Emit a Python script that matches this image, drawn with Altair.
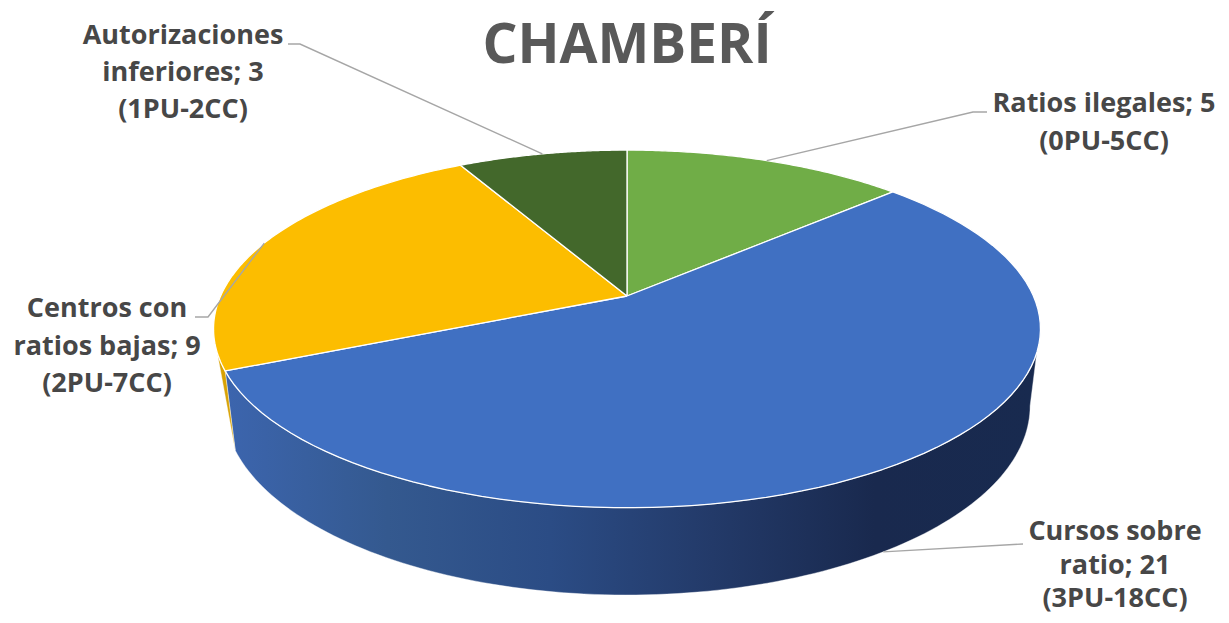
import numpy as np
import pandas as pd
import altair as alt

# --- chart content -------------------------------------------------------
values = [5, 21, 9, 3]
names = ["Ratios ilegales", "Cursos sobre ratio", "Centros con ratios bajas", "Autorizaciones inferiores"]
colors = ["#70ad47", "#4070c2", "#fcbd00", "#43682b"]
title_text = "CHAMBERÍ"
label_lines = [
    ["Ratios ilegales; 5", "(0PU-5CC)"],
    ["Cursos sobre", "ratio; 21", "(3PU-18CC)"],
    ["Centros con", "ratios bajas; 9", "(2PU-7CC)"],
    ["Autorizaciones", "inferiores; 3", "(1PU-2CC)"],
]
# layout of the labels: centre x, first baseline, line step, knee of the leader line
label_x = [1104, 1115, 107, 183]
label_y = [112, 540, 317, 44]
line_step = [38, 33.5, 37.5, 37]
knee_path = [[(987, 112), (973, 112)], [(1023, 544)], [(195, 317), (208, 317)], [(288, 44), (300, 44)]]

# --- the perspective view of the pie -------------------------------------
AX, AY, R, A, C = 627.0, 296.0, 406.4, -118.3, 0.184
LOW_S, LOW_T, LOW_DZ = 0.975, 1.058, 75.0
total = sum(values)
edges = np.cumsum([0] + values) / total * 360.0


def rim(theta):
    t = np.radians(np.asarray(theta, dtype=float))
    u, v = np.sin(t), np.cos(t)
    d = 1 + C * v
    return AX + R * u / d, (A * v + AY) / d


def lower(theta):
    x, y = rim(theta)
    return AX + (x - AX) * LOW_S, AY + LOW_DZ + (y - AY) * LOW_T


def polygon(xs, ys):
    xs, ys = list(xs), list(ys)
    xs.append(xs[0])
    ys.append(ys[0])
    return pd.DataFrame({"x": xs, "y": ys, "i": range(len(xs))})


X = alt.X("x:Q", scale=alt.Scale(domain=[8, 1221], nice=False, zero=False), axis=None)
Y = alt.Y("y:Q", scale=alt.Scale(domain=[615, 8], nice=False, zero=False), axis=None)


def shape(df, fill, stroke="#ffffff", width=1.3):
    return alt.Chart(df).mark_line(fill=fill, stroke=stroke, strokeWidth=width, strokeJoin="round", clip=False).encode(
        x=X, y=Y, order="i:Q"
    )


layers = []

# side walls
blue_end = edges[2]
a = np.linspace(108, blue_end, 120)
b = np.linspace(blue_end, 100.6, 120)
rx, ry = rim(a)
lx, ly = lower(b)
side_fill = alt.Gradient(
    gradient="linear", x1=0, x2=1, y1=0, y2=0,
    stops=[
        alt.GradientStop(color="#3c65ae", offset=0),
        alt.GradientStop(color="#34598f", offset=0.2),
        alt.GradientStop(color="#2b4c85", offset=0.4),
        alt.GradientStop(color="#233a69", offset=0.6),
        alt.GradientStop(color="#19294e", offset=0.8),
        alt.GradientStop(color="#182a4f", offset=1),
    ],
)
layers.append(shape(polygon(np.r_[rx, lx], np.r_[ry, ly]), side_fill, stroke="#ffffff", width=0.4))

a = np.linspace(blue_end, 252, 12)
rx, ry = rim(a)
lx, ly = lower([blue_end])
layers.append(shape(polygon(np.r_[rx, lx], np.r_[ry, ly]), "#d8a204", stroke="#ffffff", width=0.4))

# top face
for k, col in enumerate(colors):
    a = np.linspace(edges[k], edges[k + 1], 90)
    rx, ry = rim(a)
    layers.append(shape(polygon(np.r_[AX, rx], np.r_[AY, ry]), col))

# leader lines, from the middle of each slice's outer edge to the label
for k in range(len(values)):
    mid = (edges[k] + edges[k + 1]) / 2
    ex, ey = lower(mid) if k == 1 else rim(mid)
    pts = knee_path[k] + [(float(ex), float(ey))]
    df = pd.DataFrame({"x": [p[0] for p in pts], "y": [p[1] for p in pts], "i": range(len(pts))})
    layers.append(alt.Chart(df).mark_line(stroke="#a6a6a6", strokeWidth=1.4).encode(x=X, y=Y, order="i:Q"))

# labels
rows = []
for k, lines in enumerate(label_lines):
    for j, line in enumerate(lines):
        rows.append({"x": label_x[k], "y": label_y[k] + j * line_step[k], "t": line})
layers.append(
    alt.Chart(pd.DataFrame(rows)).mark_text(
        font="Open Sans", fontWeight="bold", fontSize=27, color="#474747", align="center", baseline="alphabetic"
    ).encode(x=X, y=Y, text="t:N")
)

# title
layers.append(
    alt.Chart(pd.DataFrame({"x": [627], "y": [63], "t": [title_text]})).mark_text(
        font="Open Sans", fontWeight="bold", fontSize=55, color="#595959", align="center", baseline="alphabetic"
    ).encode(x=X, y=Y, text="t:N")
)

chart = (
    alt.layer(*layers)
    .properties(width=1213, height=607, padding=0, background="#ffffff", autosize=alt.AutoSizeParams(type="none"))
    .configure_view(strokeWidth=0)
)
chart.save("out.html", embed_options={"renderer": "svg", "actions": False})
